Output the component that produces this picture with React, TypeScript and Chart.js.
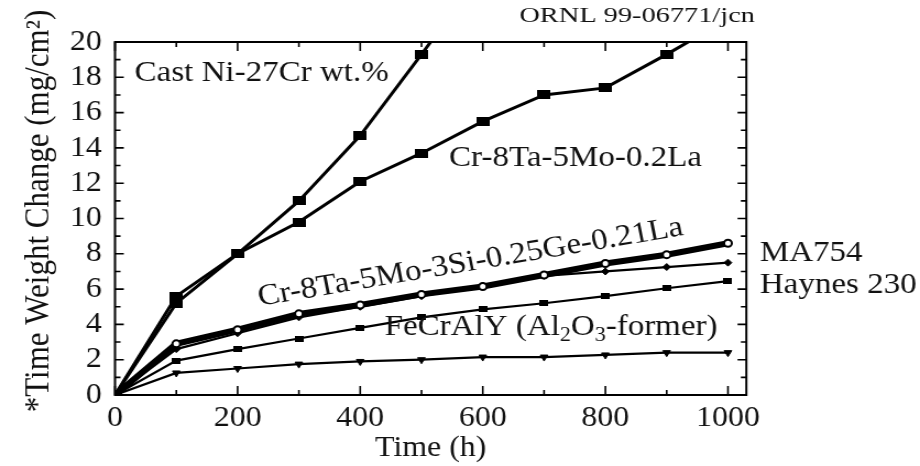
import { useEffect, useRef } from "react";
import { Chart, registerables } from "chart.js";

Chart.register(...registerables);

// ---- data ----
const hours = [0, 100, 200, 300, 400, 500, 600, 700, 800, 900, 1000];
const castNi27Cr = [0, 5.6, 8.0, 11.0, 14.7, 19.3, 24.0];
const cr8Ta5Mo02La = [0, 5.2, 8.0, 9.8, 12.1, 13.7, 15.5, 17.0, 17.4, 19.3, 21.3];
const cr8Ta5Mo3Si = [0, 2.9, 3.7, 4.6, 5.1, 5.7, 6.15, 6.8, 7.45, 7.95, 8.6];
const ma754 = [0, 2.6, 3.5, 4.4, 5.0, 5.6, 6.2, 6.75, 7.0, 7.25, 7.5];
const haynes230 = [0, 1.95, 2.6, 3.2, 3.8, 4.4, 4.85, 5.2, 5.6, 6.05, 6.45];
const fecraly = [0, 1.25, 1.5, 1.75, 1.9, 2.0, 2.15, 2.15, 2.27, 2.4, 2.4];

const xTickValues = [0, 200, 400, 600, 800, 1000];
const xMinorValues = [100, 300, 500, 700, 900];
const yTickValues = [0, 2, 4, 6, 8, 10, 12, 14, 16, 18, 20];
const yMinorValues = [1, 3, 5, 7, 9, 11, 13, 15, 17, 19];
const xMin = 0;
const xMax = 1030;
const yMin = 0;
const yMax = 20;

const xTitle = "Time (h)";
const yTitle = "*Time Weight Change (mg/cm\u00B2)";
const stamp = "ORNL 99-06771/jcn";

// canvas drawn narrower and stretched horizontally like the reference
const W = 836;
const H = 466;
const FONT = '"Liberation Serif", "Times New Roman", serif';
const TEXT = "#111";

type Piece = { t: string; sub?: boolean };
type Note = { pieces: Piece[]; x: number; y: number; align: CanvasTextAlign; rot: number };

const notes: Note[] = [
  { pieces: [{ t: "Cast Ni-27Cr wt.%" }], x: 32, y: 18.25, align: "left", rot: 0 },
  { pieces: [{ t: "Cr-8Ta-5Mo-0.2La" }], x: 545, y: 13.4, align: "left", rot: 0 },
  { pieces: [{ t: "Cr-8Ta-5Mo-3Si-0.25Ge-0.21La" }], x: 580, y: 7.5, align: "center", rot: -10.4 },
  {
    pieces: [{ t: "FeCrAlY (Al" }, { t: "2", sub: true }, { t: "O" }, { t: "3", sub: true }, { t: "-former)" }],
    x: 440, y: 3.85, align: "left", rot: 0,
  },
  { pieces: [{ t: "MA754" }], x: 1052, y: 8.05, align: "left", rot: 0 },
  { pieces: [{ t: "Haynes 230" }], x: 1052, y: 6.2, align: "left", rot: 0 },
];

function makeRect(w: number, h: number) {
  const c = document.createElement("canvas");
  c.width = w;
  c.height = h;
  const g = c.getContext("2d")!;
  g.fillStyle = "#000";
  g.fillRect(0, 0, w, h);
  return c;
}

const toPts = (arr: number[]) => arr.map((v, i) => ({ x: hours[i], y: v }));

const framePlugin = {
  id: "frame",
  afterDraw(chart: any) {
    const { ctx, chartArea: a, scales } = chart;
    const x = scales.x;
    const y = scales.y;
    ctx.save();
    ctx.strokeStyle = "#000";
    ctx.lineWidth = 2;
    ctx.strokeRect(a.left, a.top, a.right - a.left, a.bottom - a.top);
    ctx.lineWidth = 1.6;
    ctx.beginPath();
    const xt = (v: number, L: number) => {
      const px = x.getPixelForValue(v);
      ctx.moveTo(px, a.bottom);
      ctx.lineTo(px, a.bottom - L);
      ctx.moveTo(px, a.top);
      ctx.lineTo(px, a.top + L);
    };
    const yt = (v: number, L: number) => {
      const py = y.getPixelForValue(v);
      ctx.moveTo(a.left, py);
      ctx.lineTo(a.left + L, py);
      ctx.moveTo(a.right, py);
      ctx.lineTo(a.right - L, py);
    };
    xTickValues.forEach((v) => xt(v, 9));
    xMinorValues.forEach((v) => xt(v, 5));
    yTickValues.forEach((v) => yt(v, 8));
    yMinorValues.forEach((v) => yt(v, 5));
    ctx.stroke();

    // annotations
    ctx.fillStyle = TEXT;
    ctx.textBaseline = "middle";
    for (const n of notes) {
      const px = x.getPixelForValue(n.x);
      const py = y.getPixelForValue(n.y);
      ctx.save();
      ctx.translate(px, py);
      ctx.rotate((n.rot * Math.PI) / 180);
      const mainFont = `30px ${FONT}`;
      const subFont = `20px ${FONT}`;
      let total = 0;
      for (const p of n.pieces) {
        ctx.font = p.sub ? subFont : mainFont;
        total += ctx.measureText(p.t).width;
      }
      let cx = n.align === "center" ? -total / 2 : n.align === "right" ? -total : 0;
      ctx.textAlign = "left";
      for (const p of n.pieces) {
        ctx.font = p.sub ? subFont : mainFont;
        ctx.fillText(p.t, cx, p.sub ? 9 : 0);
        cx += ctx.measureText(p.t).width;
      }
      ctx.restore();
    }

    // y-axis title
    ctx.save();
    ctx.translate(36, 211);
    ctx.rotate(-Math.PI / 2);
    ctx.font = `31px ${FONT}`;
    ctx.textAlign = "center";
    ctx.textBaseline = "middle";
    ctx.fillText(yTitle, 0, 0);
    ctx.restore();

    // stamp at top right
    ctx.save();
    ctx.font = `20px ${FONT}`;
    const sw = ctx.measureText(stamp).width;
    const target = 214;
    ctx.translate(686, 17);
    ctx.scale(target / sw, 1);
    ctx.textAlign = "right";
    ctx.textBaseline = "middle";
    ctx.fillText(stamp, 0, 0);
    ctx.restore();

    ctx.restore();
  },
};

export default function App() {
  const ref = useRef<HTMLCanvasElement>(null);
  useEffect(() => {
    document.body.style.margin = "0";
    const canvas = ref.current!;
    const bigSq = makeRect(12, 9);
    const smallSq = makeRect(8, 6);
    const black = "#000";
    const chart = new Chart(canvas, {
      type: "line",
      data: {
        datasets: [
          {
            label: "Cast Ni-27Cr wt.%",
            data: toPts(castNi27Cr),
            borderColor: black,
            borderWidth: 3,
            pointStyle: bigSq as any,
            pointRadius: 5,
          },
          {
            label: "Cr-8Ta-5Mo-0.2La",
            data: toPts(cr8Ta5Mo02La),
            borderColor: black,
            borderWidth: 3,
            pointStyle: bigSq as any,
            pointRadius: 5,
          },
          {
            label: "Cr-8Ta-5Mo-3Si-0.25Ge-0.21La",
            data: toPts(cr8Ta5Mo3Si),
            borderColor: black,
            borderWidth: 6,
            pointStyle: "circle",
            pointRadius: 3.5,
            pointBorderWidth: 2,
            pointBackgroundColor: "#fff",
            pointBorderColor: black,
          },
          {
            label: "MA754",
            data: toPts(ma754),
            borderColor: black,
            borderWidth: 2.2,
            pointStyle: "rectRot",
            pointRadius: 3.5,
            pointBackgroundColor: black,
            pointBorderColor: black,
            pointBorderWidth: 1,
          },
          {
            label: "Haynes 230",
            data: toPts(haynes230),
            borderColor: black,
            borderWidth: 2.2,
            pointStyle: smallSq as any,
            pointRadius: 4,
          },
          {
            label: "FeCrAlY (Al2O3-former)",
            data: toPts(fecraly),
            borderColor: black,
            borderWidth: 2.2,
            pointStyle: "triangle",
            pointRotation: 180,
            pointRadius: 4,
            pointBackgroundColor: black,
            pointBorderColor: black,
            pointBorderWidth: 1,
          },
        ],
      },
      options: {
        responsive: false,
        devicePixelRatio: 1,
        animation: false,
        layout: { padding: { left: 0, right: W - 678.2, top: 42, bottom: 0 } },
        plugins: { legend: { display: false }, tooltip: { enabled: false } },
        elements: { line: { tension: 0 } },
        scales: {
          x: {
            type: "linear",
            min: xMin,
            max: xMax,
            grid: { display: false, drawTicks: false },
            border: { display: false },
            afterBuildTicks: (s: any) => {
              s.ticks = xTickValues.map((v) => ({ value: v }));
            },
            ticks: {
              autoSkip: false,
              callback: (v: any) => String(v),
              color: TEXT,
              padding: 6,
              font: { family: FONT, size: 29 },
              maxRotation: 0,
            },
            title: {
              display: true,
              text: xTitle,
              color: TEXT,
              font: { family: FONT, size: 29, lineHeight: 1 },
              padding: { top: 0, bottom: 3 },
            },
            afterFit: (s: any) => {
              s.height = H - 395;
            },
          },
          y: {
            type: "linear",
            min: yMin,
            max: yMax,
            grid: { display: false, drawTicks: false },
            border: { display: false },
            afterBuildTicks: (s: any) => {
              s.ticks = yTickValues.map((v) => ({ value: v }));
            },
            ticks: {
              autoSkip: false,
              callback: (v: any) => String(v),
              color: TEXT,
              padding: 12,
              font: { family: FONT, size: 29 },
            },
            title: { display: false, text: yTitle },
            afterFit: (s: any) => {
              s.width = 104.5;
            },
          },
        },
      },
      plugins: [framePlugin],
    } as any);
    return () => chart.destroy();
  }, []);
  return (
    <canvas
      ref={ref}
      width={W}
      height={H}
      style={{ width: "920px", height: "466px", display: "block" }}
    />
  );
}
